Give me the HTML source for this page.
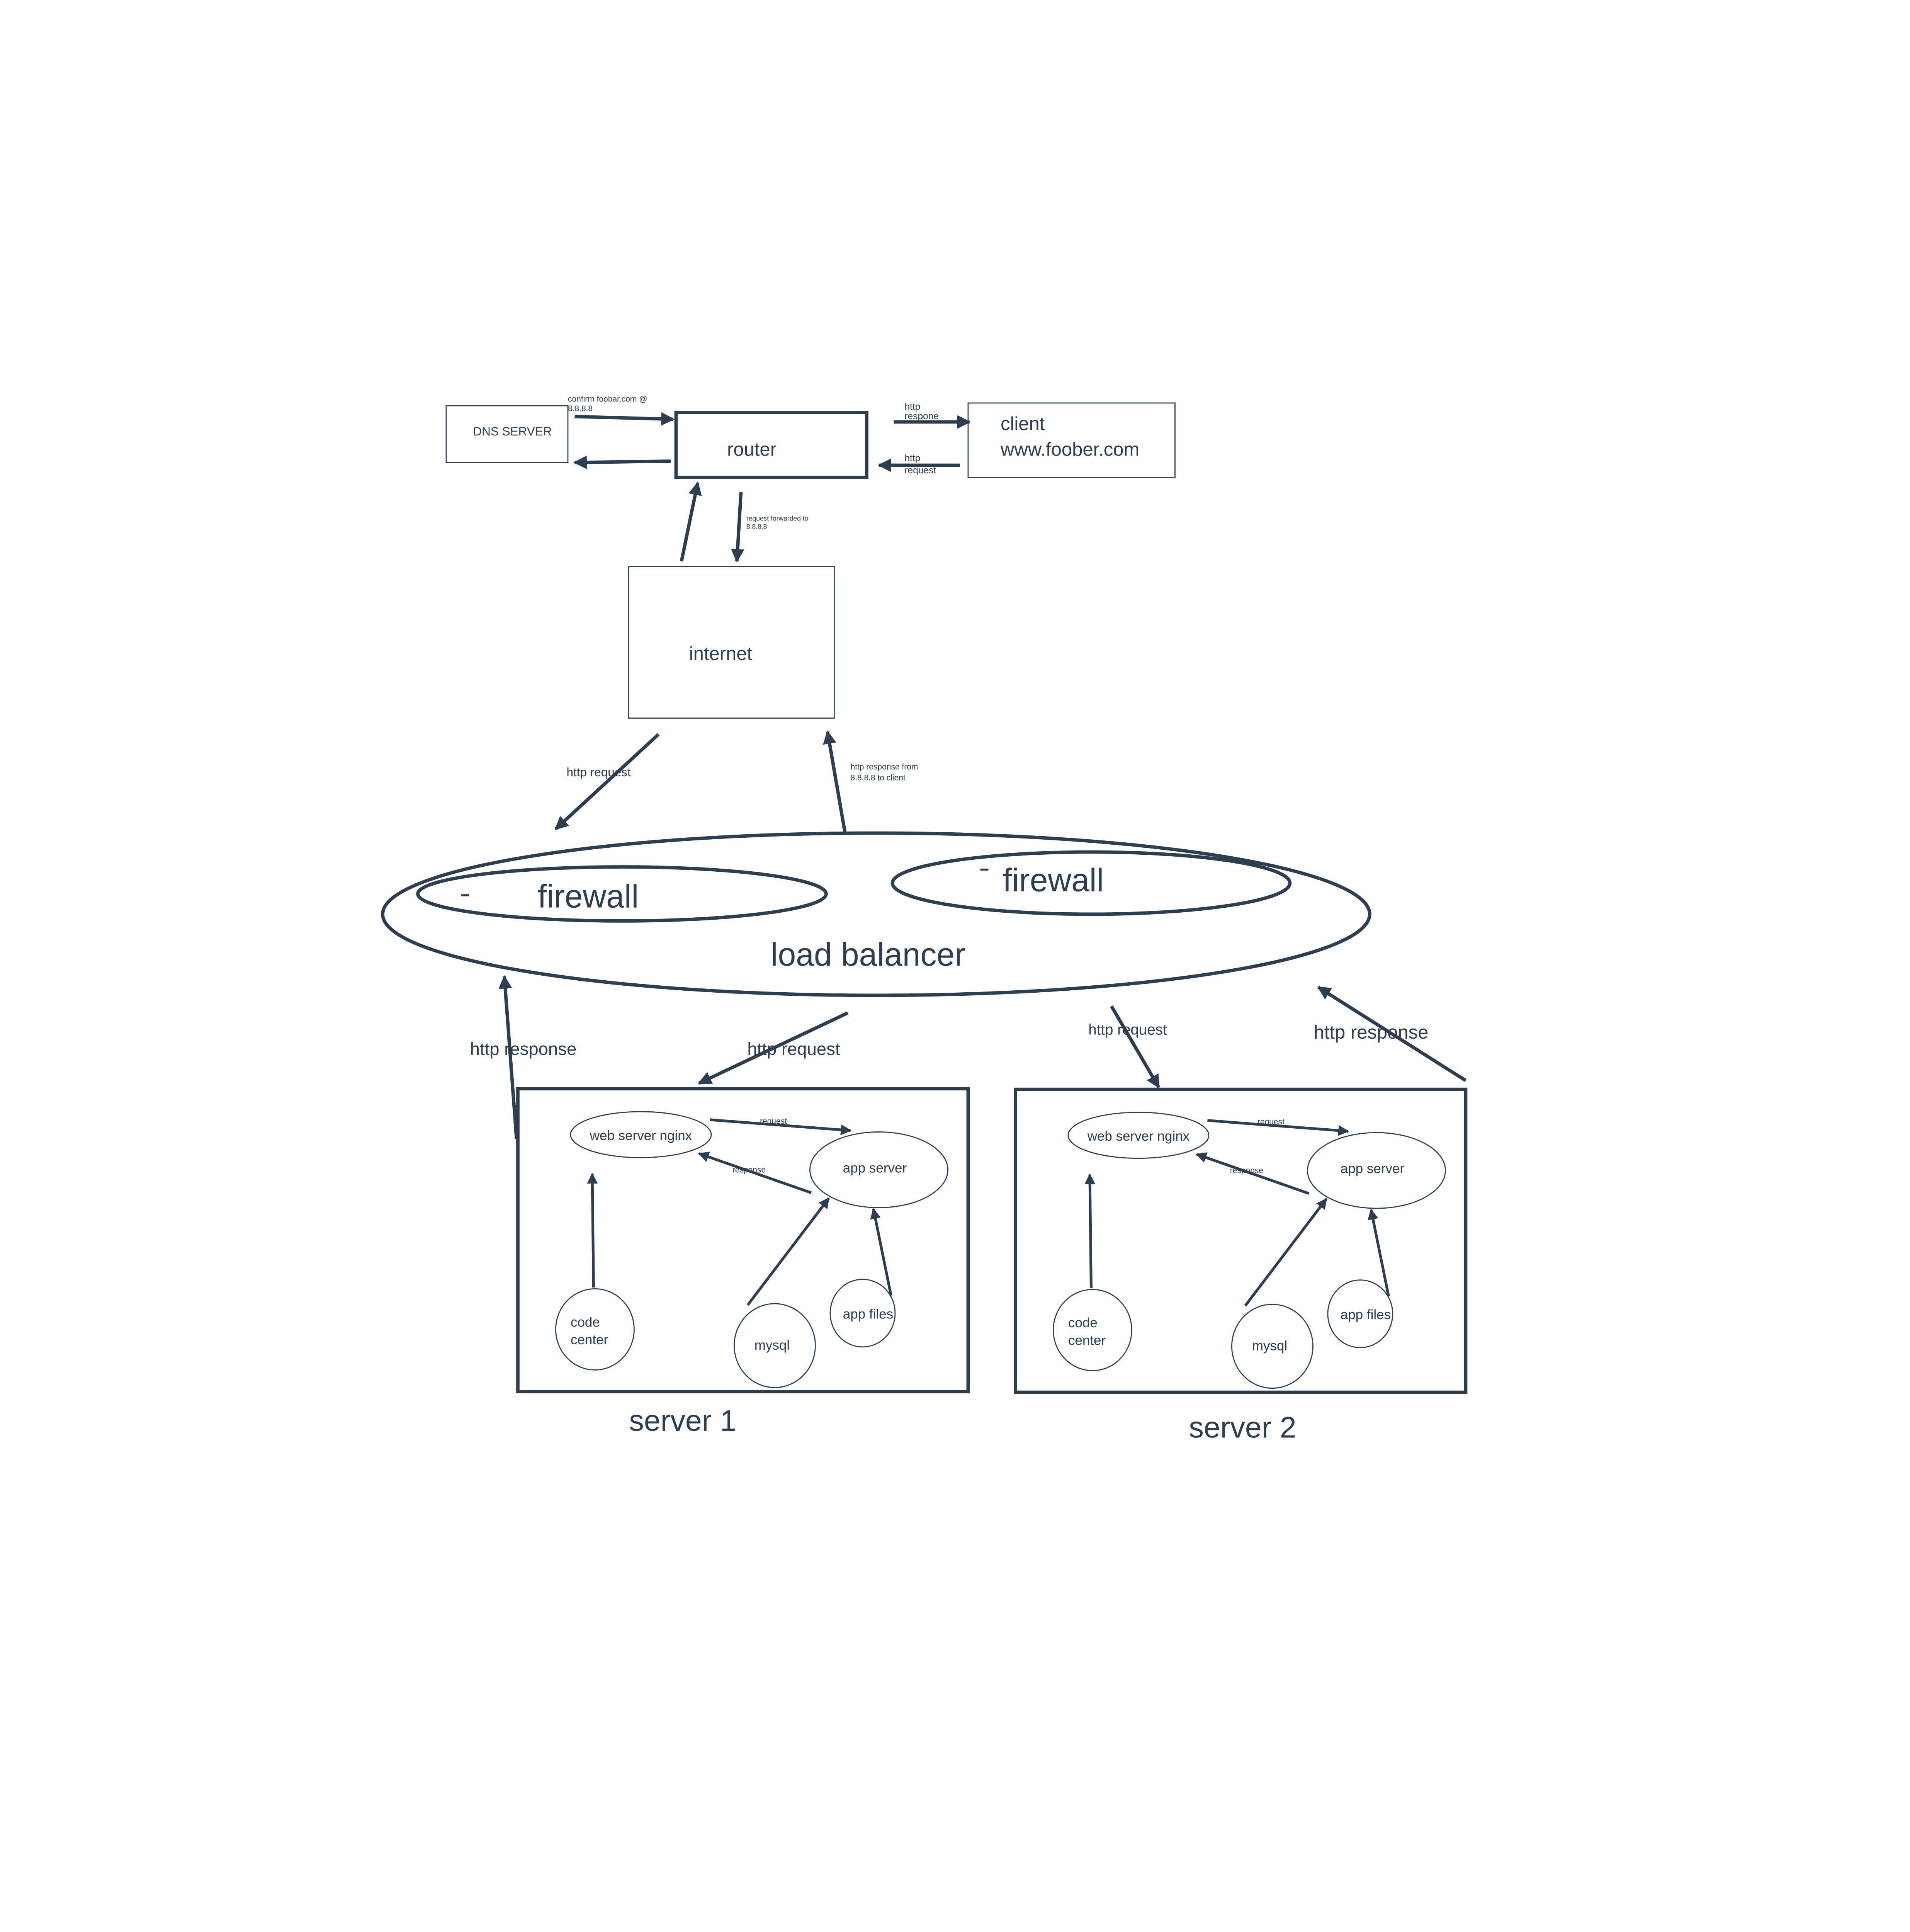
<!DOCTYPE html>
<html><head><meta charset="utf-8"><style>
html,body{margin:0;padding:0;background:#fff;width:4944px;height:5512px;overflow:hidden;}
svg{display:block;}
text{font-family:"Liberation Sans","DejaVu Sans",sans-serif;fill:#2d3e50;}
</style></head><body>
<svg width="4944" height="5512" viewBox="0 0 1412.6 1574.9" preserveAspectRatio="none" xmlns="http://www.w3.org/2000/svg">
<defs>
<marker id="a" viewBox="0 0 10 10" refX="9" refY="5" markerWidth="4" markerHeight="4" orient="auto" markerUnits="strokeWidth"><path d="M0,0 L10,5 L0,10 z" fill="#2d3e50"/></marker>
<g id="srv" fill="none" stroke="#2d3e50">
<rect x="383" y="805" width="333" height="224" stroke-width="2.5"/>
<ellipse cx="474" cy="839" rx="52" ry="17" stroke-width="0.8"/>
<ellipse cx="650" cy="865" rx="51" ry="28" stroke-width="0.8"/>
<ellipse cx="440" cy="983" rx="29" ry="30" stroke-width="0.8"/>
<ellipse cx="573" cy="995" rx="30" ry="31" stroke-width="0.8"/>
<ellipse cx="638" cy="971" rx="24" ry="25" stroke-width="0.8"/>
<g stroke-width="2" marker-end="url(#a)">
<line x1="525" y1="828" x2="629" y2="836"/>
<line x1="600" y1="882" x2="517" y2="853"/>
<line x1="439" y1="952" x2="438" y2="868"/>
<line x1="553" y1="965" x2="613" y2="886"/>
<line x1="659" y1="958" x2="646" y2="894"/>
</g>
<g stroke="none">
<text x="474" y="843" font-size="10" text-anchor="middle" fill="#2d3e50">web server nginx</text>
<text x="647" y="867" font-size="10" text-anchor="middle" fill="#2d3e50">app server</text>
<text x="422" y="981" font-size="10" fill="#2d3e50">code</text>
<text x="422" y="994" font-size="10" fill="#2d3e50">center</text>
<text x="571" y="998" font-size="10" text-anchor="middle" fill="#2d3e50">mysql</text>
<text x="642" y="975" font-size="10" text-anchor="middle" fill="#2d3e50">app files</text>
<text x="572" y="831" font-size="6" text-anchor="middle" fill="#2d3e50">request</text>
<text x="554" y="867" font-size="6" text-anchor="middle" fill="#2d3e50">response</text>
</g>
</g>
</defs>
<g fill="none" stroke="#2d3e50">
<rect x="330" y="300" width="90" height="42" stroke-width="0.8"/>
<rect x="500" y="305" width="141" height="48" stroke-width="2.5"/>
<rect x="716" y="298" width="153" height="55" stroke-width="0.8"/>
<rect x="465" y="419" width="152" height="112" stroke-width="0.8"/>
<ellipse cx="648" cy="676" rx="365" ry="60" stroke-width="2.5"/>
<ellipse cx="460" cy="661" rx="151" ry="20" stroke-width="2.5"/>
<ellipse cx="807" cy="653" rx="147" ry="23" stroke-width="2.5"/>
<g stroke-width="2.5" marker-end="url(#a)">
<line x1="425" y1="308" x2="498" y2="310"/>
<line x1="496" y1="341" x2="425" y2="342"/>
<line x1="661" y1="312" x2="717" y2="312"/>
<line x1="710" y1="344" x2="650" y2="344"/>
<line x1="504" y1="415" x2="516" y2="357"/>
<line x1="548" y1="364" x2="545" y2="415"/>
<line x1="487" y1="543" x2="411" y2="613"/>
<line x1="625" y1="616" x2="612" y2="541"/>
<line x1="382" y1="842" x2="373" y2="722"/>
<line x1="627" y1="749" x2="517" y2="801"/>
<line x1="822" y1="744" x2="857" y2="804"/>
<line x1="1084" y1="799" x2="975" y2="730"/>
</g>
<line x1="341" y1="662" x2="347" y2="662" stroke-width="1.5"/>
<line x1="725" y1="643" x2="731" y2="643" stroke-width="1.5"/>
</g>
<use href="#srv"/>
<use href="#srv" transform="translate(368,0.5)"/>
<text x="379" y="322" font-size="9" text-anchor="middle">DNS SERVER</text>
<text x="556" y="337" font-size="14" text-anchor="middle">router</text>
<text x="740" y="318" font-size="14">client</text>
<text x="740" y="337" font-size="14">www.foober.com</text>
<text x="533" y="488" font-size="14" text-anchor="middle">internet</text>
<text x="420" y="297" font-size="6">confirm foobar.com @</text>
<text x="420" y="304" font-size="6">8.8.8.8</text>
<text x="669" y="303" font-size="7">http</text>
<text x="669" y="310" font-size="7">respone</text>
<text x="669" y="341" font-size="7">http</text>
<text x="669" y="350" font-size="7">request</text>
<text x="552" y="385" font-size="5">request forwarded to</text>
<text x="552" y="391" font-size="5">8.8.8.8</text>
<text x="419" y="574" font-size="9">http request</text>
<text x="629" y="569" font-size="6">http response from</text>
<text x="629" y="577" font-size="6">8.8.8.8 to client</text>
<text x="435" y="671" font-size="24" text-anchor="middle">firewall</text>
<text x="779" y="659" font-size="24" text-anchor="middle">firewall</text>
<text x="642" y="714" font-size="24" text-anchor="middle">load balancer</text>
<text x="387" y="780" font-size="13" text-anchor="middle">http response</text>
<text x="587" y="780" font-size="13" text-anchor="middle">http request</text>
<text x="834" y="765" font-size="11" text-anchor="middle">http request</text>
<text x="1014" y="768" font-size="14" text-anchor="middle">http response</text>
<text x="505" y="1058" font-size="22" text-anchor="middle">server 1</text>
<text x="919" y="1063" font-size="22" text-anchor="middle">server 2</text>
</svg>
</body></html>
